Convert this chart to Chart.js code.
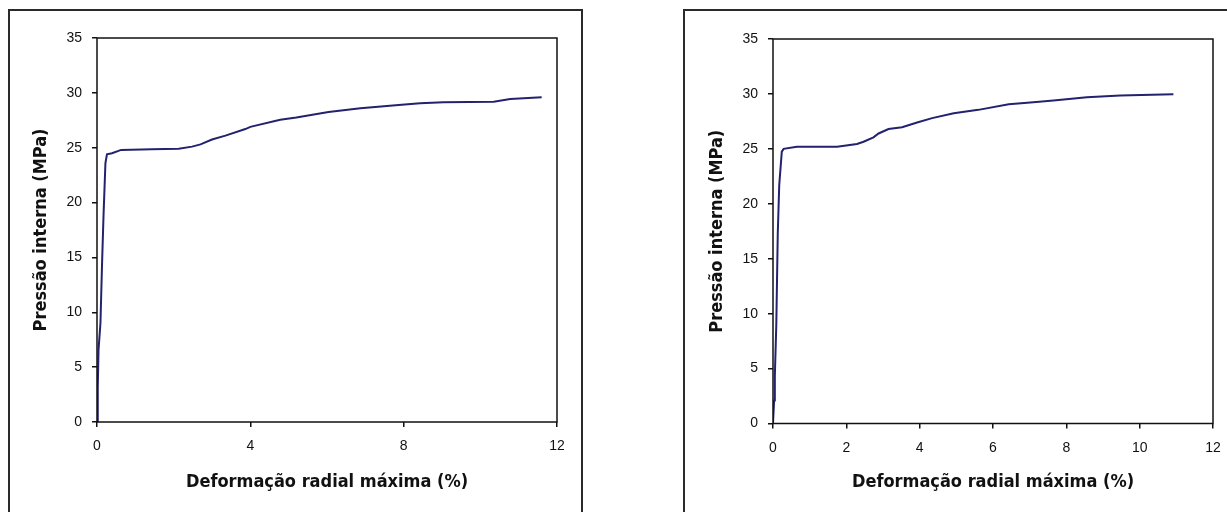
<!DOCTYPE html>
<html>
<head>
<meta charset="utf-8">
<script src="https://cdn.jsdelivr.net/npm/chart.js@4"></script>
<style>
	body { margin: 0; width: 1227px; height: 512px; overflow: hidden; background: #fff; position: relative; }
	.box { position: absolute; border: 2px solid #2a2a2a; box-sizing: border-box; }
	#boxA { left: 8px; top: 9px; width: 575px; height: 540px; }
	#boxB { left: 683px; top: 9px; width: 600px; height: 540px; }
	canvas { position: absolute; }
	#chartA { left: 9px; top: 10px; }
	#chartB { left: 685px; top: 11px; }
</style>
</head>
<body>
<div class="box" id="boxA"></div>
<div class="box" id="boxB"></div>
<canvas id="chartA" width="572" height="502"></canvas>
<canvas id="chartB" width="542" height="501"></canvas>
<script>
(function() {

	/* ================= Data ================= */

	var strainA = [0, 0.02, 0.04, 0.09, 0.13, 0.17, 0.22, 0.26, 0.39, 0.63, 1.43, 2.13, 2.48, 2.7, 3.0, 3.35, 3.87, 4.0, 4.78, 5.2, 6.04, 6.87, 7.87, 8.43, 9.04, 10.35, 10.78, 11.6];
	var pressureA = [0, 3.2, 6.6, 9.0, 14.2, 18.8, 23.6, 24.4, 24.5, 24.8, 24.85, 24.9, 25.1, 25.3, 25.75, 26.1, 26.7, 26.9, 27.55, 27.75, 28.25, 28.6, 28.9, 29.05, 29.15, 29.2, 29.45, 29.6];

	var strainB = [0, 0.03, 0.05, 0.09, 0.13, 0.17, 0.24, 0.29, 0.65, 1.75, 2.29, 2.47, 2.74, 2.88, 3.15, 3.52, 3.93, 4.34, 4.93, 5.6, 6.43, 7.1, 7.65, 8.56, 9.47, 10.92];
	var pressureB = [0, 2.1, 4.3, 9.0, 17.3, 21.7, 24.75, 25.0, 25.2, 25.2, 25.45, 25.65, 26.05, 26.4, 26.8, 26.97, 27.4, 27.8, 28.25, 28.55, 29.07, 29.25, 29.4, 29.7, 29.85, 29.98];

	var xTicksA = [0, 4, 8, 12];
	var xTicksB = [0, 2, 4, 6, 8, 10, 12];
	var yTicks = [0, 5, 10, 15, 20, 25, 30, 35];

	var xTitle = 'Deformação radial máxima (%)';
	var yTitle = 'Pressão interna (MPa)';

	/* ================= Helpers ================= */

	function toPoints(xs, ys) {
		return xs.map(function(x, i) {
			return { x: x, y: ys[i] };
		});
	}

	// box around the plot area
	var frame = {
		id: 'frame',
		afterDraw: function(chart) {
			var a = chart.chartArea;
			var ctx = chart.ctx;
			ctx.save();
			ctx.strokeStyle = '#111';
			ctx.lineWidth = 1.5;
			ctx.strokeRect(a.left, a.top, a.right - a.left, a.bottom - a.top);
			ctx.restore();
		}
	};

	var titleFont = { family: "'Liberation Sans Narrow', 'DejaVu Sans Condensed', Arial, sans-serif", size: 18, weight: 'bold' };
	var tickFont = { family: "'Liberation Sans', Arial, sans-serif", size: 14 };

	function makeChart(id, xs, ys, xTicks, pad, xHeight) {
		var ctx = document.getElementById(id);
		return new Chart(ctx, {
			type: 'scatter',
			data: {
				datasets: [{
					data: toPoints(xs, ys),
					showLine: true,
					borderColor: '#22226e',
					borderWidth: 2,
					pointRadius: 0,
					tension: 0
				}]
			},
			options: {
				responsive: false,
				animation: false,
				layout: { padding: pad },
				plugins: { legend: { display: false }, tooltip: { enabled: false } },
				scales: {
					x: {
						type: 'linear',
						min: 0,
						max: 12,
						afterBuildTicks: function(scale) {
							scale.ticks = xTicks.map(function(v) { return { value: v }; });
						},
						afterFit: function(scale) {
							scale.height = xHeight;
							scale.paddingLeft = 0;
							scale.paddingRight = 0;
						},
						border: { display: false },
						grid: { drawOnChartArea: false, tickLength: 5, tickColor: '#111', lineWidth: 1.5 },
						ticks: { color: '#111', font: tickFont, padding: 11, maxRotation: 0 },
						title: { display: true, text: xTitle, color: '#111', font: titleFont, padding: { top: 0, bottom: 19 } }
					},
					y: {
						min: 0,
						max: 35,
						afterBuildTicks: function(scale) {
							scale.ticks = yTicks.map(function(v) { return { value: v }; });
						},
						afterFit: function(scale) {
							scale.width = 88;
							scale.paddingTop = 0;
							scale.paddingBottom = 0;
						},
						border: { display: false },
						grid: { drawOnChartArea: false, tickLength: 5, tickColor: '#111', lineWidth: 1.5 },
						ticks: { color: '#111', font: tickFont, padding: 10 },
						title: { display: true, text: yTitle, color: '#111', font: titleFont, padding: { top: 22, bottom: 0 } }
					}
				}
			},
			plugins: [frame]
		});
	}

	makeChart('chartA', strainA, pressureA, xTicksA, { left: 0, top: 28, right: 24, bottom: 0 }, 90);
	makeChart('chartB', strainB, pressureB, xTicksB, { left: 0, top: 28, right: 14, bottom: 0 }, 88.5);

})();
</script>
</body>
</html>
